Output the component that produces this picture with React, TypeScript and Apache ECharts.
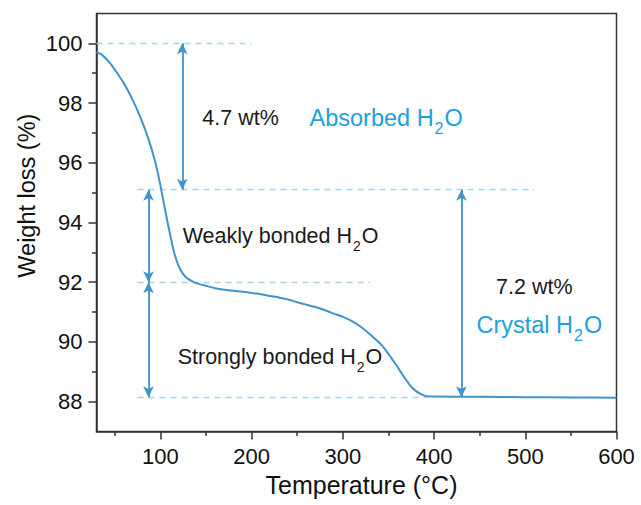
import React, { useEffect, useRef } from "react";
import * as echarts from "echarts";

// ---- data ----
const temperatures = [
  30, 35, 40, 45, 50, 55, 60, 65, 70, 75, 80, 85, 90, 95, 100, 105, 110, 115, 120, 125,
  130, 135, 140, 150, 160, 175, 190, 200, 210, 220, 230, 240, 250, 260, 270, 280, 290,
  300, 310, 320, 330, 340, 345, 350, 355, 360, 365, 370, 375, 380, 385, 390, 395, 400,
  450, 500, 550, 600,
];
const weights = [
  99.7, 99.64, 99.5, 99.33, 99.12, 98.9, 98.66, 98.39, 98.08, 97.75, 97.38, 96.97, 96.5,
  95.95, 95.25, 94.45, 93.7, 93.0, 92.55, 92.27, 92.12, 92.03, 91.96, 91.88, 91.8, 91.73,
  91.68, 91.64, 91.6, 91.54, 91.49, 91.42, 91.33, 91.25, 91.17, 91.07, 90.95, 90.84, 90.7,
  90.5, 90.25, 89.97, 89.8, 89.6, 89.38, 89.16, 88.92, 88.7, 88.5, 88.36, 88.26, 88.2,
  88.17, 88.17, 88.16, 88.15, 88.14, 88.13,
];
const xTicks = [100, 200, 300, 400, 500, 600];
const xMinorTicks = [50, 150, 250, 350, 450, 550];
const yTicks = [88, 90, 92, 94, 96, 98, 100];
const yMinorTicks = [89, 91, 93, 95, 97, 99];
const xTitle = "Temperature (°C)";
const yTitle = "Weight loss (%)";

// reference (dashed) levels: [level, fromT, toT]
const dashLevels = [
  [100, 30, 200],
  [95.1, 75, 510],
  [92, 75, 330],
  [88.15, 75, 392],
];
// double arrows: [T, fromW, toW]
const arrows = [
  [124, 100, 95.1],
  [87, 95.1, 92],
  [87, 92, 88.15],
  [430, 95.1, 88.15],
];
// annotations: [text, T (left edge), W (middle), kind]
const annotations: [string, number, number, string][] = [
  ["4.7 wt%", 146, 97.51, "black"],
  ["Absorbed H|2|O", 263.5, 97.51, "blue"],
  ["Weakly bonded H|2|O", 124.5, 93.56, "black"],
  ["Strongly bonded H|2|O", 119, 89.51, "black"],
  ["7.2 wt%", 468, 91.83, "black"],
  ["Crystal H|2|O", 446.5, 90.58, "blue"],
];

const FONT = "'Liberation Sans', Arial, Helvetica, sans-serif";
const CURVE = "#4094ca";
const DASH = "#a9d1e8";
const BLUE_TEXT = "#22a0dc";
const AXIS = "#333333";

export default function App() {
  const ref = useRef<HTMLDivElement>(null);
  useEffect(() => {
    if (!ref.current) return;
    const chart = echarts.init(ref.current, undefined, { renderer: "svg" });
    const gridOpt = { left: 96.5, right: 24.5, top: 13.5, bottom: 73.5, show: true, borderColor: AXIS, borderWidth: 1.5, backgroundColor: "transparent" };
    const common = { min: 30, max: 600, type: "value" as const, splitLine: { show: false } };
    const yCommon = { min: 87, max: 101, type: "value" as const, splitLine: { show: false } };
    chart.setOption({
      animation: false,
      backgroundColor: "#ffffff",
      grid: gridOpt,
      xAxis: [
        {
          ...common,
          position: "bottom",
          axisLine: { show: true, onZero: false, lineStyle: { color: AXIS, width: 1.5 } },
          axisTick: { show: true, length: 8, customValues: xTicks, lineStyle: { color: AXIS, width: 1.5 } },
          axisLabel: { show: true, customValues: xTicks, margin: 14, color: "#111", fontSize: 22, fontFamily: FONT },
          name: xTitle,
          nameLocation: "middle",
          nameGap: 29,
          nameTextStyle: { fontSize: 25, color: "#111", fontFamily: FONT, padding: [0, 0, 0, 10] },
        },
        {
          ...common,
          position: "bottom",
          axisLine: { show: false, onZero: false },
          axisTick: { show: true, length: 4.5, customValues: xMinorTicks, lineStyle: { color: AXIS, width: 1.5 } },
          axisLabel: { show: false },
        },
      ],
      yAxis: [
        {
          ...yCommon,
          position: "left",
          axisLine: { show: true, onZero: false, lineStyle: { color: AXIS, width: 1.5 } },
          axisTick: { show: true, length: 8, customValues: yTicks, lineStyle: { color: AXIS, width: 1.5 } },
          axisLabel: { show: true, customValues: yTicks, margin: 14, color: "#111", fontSize: 22, fontFamily: FONT },
        },
        {
          ...yCommon,
          position: "left",
          axisLine: { show: false, onZero: false },
          axisTick: { show: true, length: 4.5, customValues: yMinorTicks, lineStyle: { color: AXIS, width: 1.5 } },
          axisLabel: { show: false },
        },
      ],
      series: [
        {
          type: "line",
          xAxisIndex: 0,
          yAxisIndex: 0,
          data: temperatures.map((t, i) => [t, weights[i]]),
          showSymbol: false,
          smooth: 0.2,
          lineStyle: { color: CURVE, width: 2 },
          silent: true,
          z: 5,
          markLine: {
            silent: true,
            animation: false,
            label: { show: false },
            data: [
              ...dashLevels.map(([w, a, b]) => [
                { coord: [a, w], symbol: "none", lineStyle: { color: DASH, type: [6, 5], width: 1.3 } },
                { coord: [b, w], symbol: "none" },
              ]),
              ...arrows.map(([t, a, b]) => [
                { coord: [t, a], symbol: "arrow", symbolSize: [8, 11], lineStyle: { color: CURVE, type: "solid", width: 1.8 } },
                { coord: [t, b], symbol: "arrow", symbolSize: [8, 11] },
              ]),
            ],
          },
        },
      ],
    });

    const graphics: any[] = annotations.map(([txt, t, w, kind]) => {
      const [px, py] = chart.convertToPixel({ xAxisIndex: 0, yAxisIndex: 0 }, [t, w]) as number[];
      const color = kind === "blue" ? BLUE_TEXT : "#1a1a1a";
      const size = kind === "blue" ? 23.5 : 21.5;
      const parts = txt.split("|");
      const text = parts.length === 3 ? `{m|${parts[0]}}{s|${parts[1]}}{m|${parts[2]}}` : `{m|${txt}}`;
      return {
        type: "text",
        x: px,
        y: py,
        silent: true,
        z: 10,
        style: {
          text,
          align: "left",
          verticalAlign: "middle",
          textAlign: "left",
          textVerticalAlign: "middle",
          fill: color,
          fontFamily: FONT,
          fontSize: size,
          rich: {
            m: { fill: color, fontSize: size, fontFamily: FONT },
            s: { fill: color, fontSize: Math.round(size * 0.66), fontFamily: FONT, padding: [21, 1, 0, 1] },
          },
        },
      };
    });
    // y-axis title, placed beside the axis at the level of the upper half of the plot
    const [, yMid] = chart.convertToPixel({ xAxisIndex: 0, yAxisIndex: 0 }, [30, 94.9]) as number[];
    graphics.push({
      type: "text",
      x: 27,
      y: yMid,
      rotation: Math.PI / 2,
      silent: true,
      style: {
        text: yTitle,
        align: "center",
        verticalAlign: "middle",
        textAlign: "center",
        textVerticalAlign: "middle",
        fill: "#111",
        fontFamily: FONT,
        fontSize: 23.5,
      },
    });
    chart.setOption({ graphic: graphics });
    return () => chart.dispose();
  }, []);
  return <div ref={ref} style={{ position: "fixed", left: 0, top: 0, width: 641, height: 505, background: "#fff" }} />;
}
